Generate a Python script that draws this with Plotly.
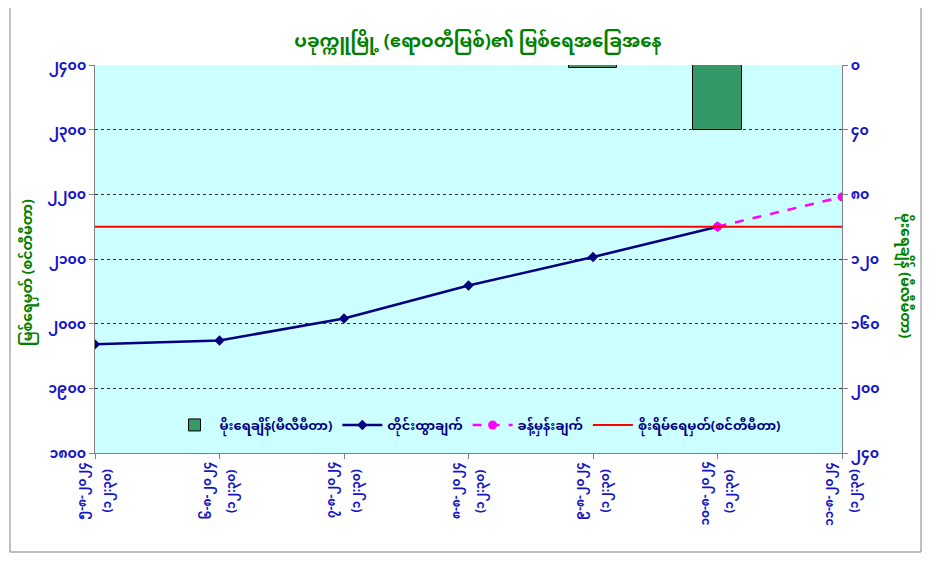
import plotly.graph_objects as go

date_labels = ["၅-၈-၂၀၂၄", "၆-၈-၂၀၂၄", "၇-၈-၂၀၂၄", "၈-၈-၂၀၂၄", "၉-၈-၂၀၂၄", "၁၀-၈-၂၀၂၄", "၁၁-၈-၂၀၂၄"]
time_labels = ["(၁၂:၃၀)"] * 7
categories = [d + " " + t for d, t in zip(date_labels, time_labels)]
rainfall_mm = [0, 0, 0, 0, 2, 40, None]
observed_cm = [1968, 1974, 2008, 2059, 2103, 2150, None]
forecast_cm = [None, None, None, None, None, 2150, 2196]
danger_cm = [2150, 2150, 2150, 2150, 2150, 2150, 2150]

left_tickvals = [1800, 1900, 2000, 2100, 2200, 2300, 2400]
left_ticktext = ["၁၈၀၀", "၁၉၀၀", "၂၀၀၀", "၂၁၀၀", "၂၂၀၀", "၂၃၀၀", "၂၄၀၀"]
right_tickvals = [0, 40, 80, 120, 160, 200, 240]
right_ticktext = ["၀", "၄၀", "၈၀", "၁၂၀", "၁၆၀", "၂၀၀", "၂၄၀"]

title_text = "ပခုက္ကူမြို့ (ဧရာဝတီမြစ်)၏ မြစ်ရေအခြေအနေ"
left_title = "မြစ်ရေမှတ် (စင်တီမီတာ)"
right_title = "မိုးရေချိန် (မီလီမီတာ)"
names = ["မိုးရေချိန်(မီလီမီတာ)", "တိုင်းထွာချက်", "ခန့်မှန်းချက်", "စိုးရိမ်ရေမှတ်(စင်တီမီတာ)"]

FONT = "Noto Sans Myanmar, Padauk, Myanmar Text, Noto Sans, DejaVu Sans, sans-serif"
BLUE = "#1414c8"
GREEN = "#008000"

fig = go.Figure()
fig.add_trace(go.Bar(
    x=categories, y=rainfall_mm, name=names[0], yaxis="y2",
    marker=dict(color="#339966", line=dict(color="#000000", width=1)),
    width=0.39,
))
fig.add_trace(go.Scatter(
    x=categories, y=observed_cm, name=names[1], mode="lines+markers",
    line=dict(color="#000080", width=2.5),
    marker=dict(symbol="diamond", size=8, color="#000080"),
))
fig.add_trace(go.Scatter(
    x=categories, y=forecast_cm, name=names[2], mode="lines+markers",
    line=dict(color="#ff00ff", width=2.5, dash="dash"),
    marker=dict(symbol="circle", size=9, color="#ff00ff"),
))
fig.add_trace(go.Scatter(
    x=categories, y=danger_cm, name=names[3], mode="lines",
    line=dict(color="#ff0000", width=2),
))

O = 8  # page offset of the figure
W, H = 914, 548
PW, PH = 747, 388
L, T = 95 - O, 65 - O

def px(x):
    return (x - O - L) / PW

def py(y):
    return (T + PH - (y - O)) / PH

annotations = [
    dict(
        text="<b>" + left_title + "</b>", xref="paper", yref="paper", x=px(28), y=py(273),
        showarrow=False, textangle=-90, font=dict(color=GREEN, size=14),
        xanchor="center", yanchor="middle",
    ),
    dict(
        text="<b>" + right_title + "</b>", xref="paper", yref="paper", x=px(905), y=py(275),
        showarrow=False, textangle=90, font=dict(color=GREEN, size=14),
        xanchor="center", yanchor="middle",
    ),
]
for cat, d, t in zip(categories, date_labels, time_labels):
    annotations.append(dict(
        text="<b>" + d + "</b>", xref="x", yref="paper", x=cat, y=py(460),
        xshift=-12, showarrow=False, textangle=-90,
        font=dict(color=BLUE, size=12), xanchor="center", yanchor="top",
    ))
    annotations.append(dict(
        text="<b>" + t + "</b>", xref="x", yref="paper", x=cat, y=py(468),
        xshift=12, showarrow=False, textangle=-90,
        font=dict(color=BLUE, size=12), xanchor="center", yanchor="top",
    ))

fig.update_layout(
    width=W, height=H,
    margin=dict(l=L, r=W - L - PW, t=T, b=H - T - PH),
    paper_bgcolor="#ffffff",
    plot_bgcolor="#ccffff",
    font=dict(family=FONT, color=BLUE, size=13),
    title=dict(text="<b>" + title_text + "</b>", x=px(478), xanchor="center",
               xref="paper", y=1 - (41 - O) / H, yanchor="middle",
               font=dict(family=FONT, color=GREEN, size=18)),
    xaxis=dict(
        type="category", range=[0, 6], showticklabels=False,
        showgrid=False, showline=True, linecolor="#808080", linewidth=1,
        ticks="outside", ticklen=5, tickcolor="#808080",
    ),
    yaxis=dict(
        range=[1800, 2400], tickvals=left_tickvals, ticktext=left_ticktext,
        showgrid=True, gridcolor="#303030", griddash="dot", gridwidth=1,
        showline=True, linecolor="#808080", linewidth=1,
        ticks="outside", ticklen=5, tickcolor="#808080",
        tickfont=dict(color=BLUE, size=14, weight="bold"), zeroline=False,
    ),
    yaxis2=dict(
        range=[240, 0], tickvals=right_tickvals, ticktext=right_ticktext,
        overlaying="y", side="right", showgrid=False,
        showline=True, linecolor="#808080", linewidth=1,
        ticks="outside", ticklen=5, tickcolor="#808080",
        tickfont=dict(color=BLUE, size=14, weight="bold"), zeroline=False,
    ),
    legend=dict(
        orientation="h", x=px(478), xanchor="center", y=py(425), yanchor="middle",
        bgcolor="rgba(0,0,0,0)", font=dict(color="#000080", size=13, weight="bold"),
        traceorder="normal", itemwidth=40,
    ),
    shapes=[dict(
        type="rect", xref="paper", yref="paper",
        x0=px(10), x1=px(921), y0=py(552), y1=py(7),
        line=dict(color="#808080", width=1), fillcolor="rgba(0,0,0,0)", layer="below",
    )],
    annotations=annotations,
    bargap=0,
)

fig.write_html("out.html")
